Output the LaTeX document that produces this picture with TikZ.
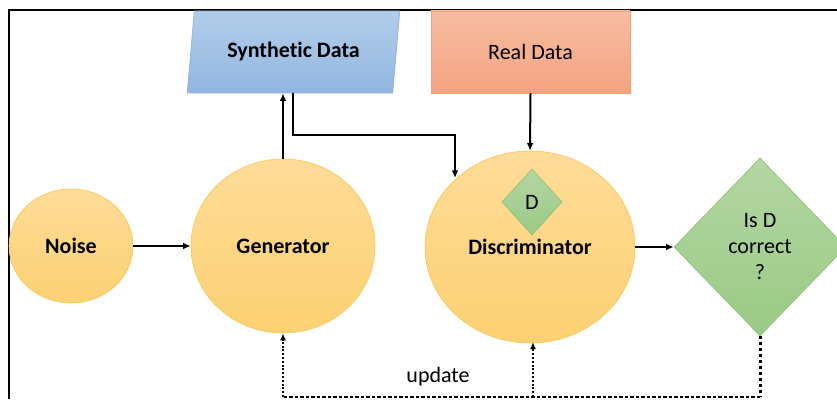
\documentclass[tikz,border=0pt]{standalone}
\usepackage{fontspec}
\setmainfont[Ligatures=NoCommon]{Carlito}
\usetikzlibrary{shapes.geometric,arrows.meta}
\definecolor{yelT}{HTML}{FEDC98}
\definecolor{yelB}{HTML}{FDD173}
\definecolor{yelE}{HTML}{F8C64E}
\definecolor{grnT}{HTML}{B3D6A3}
\definecolor{grnB}{HTML}{9BCA85}
\definecolor{grnE}{HTML}{8DBE76}
\definecolor{bluT}{HTML}{B2CDEA}
\definecolor{bluB}{HTML}{92B6E0}
\definecolor{bluE}{HTML}{8AB0DC}
\definecolor{redT}{HTML}{F6BCA2}
\definecolor{redB}{HTML}{F4A381}
\definecolor{redE}{HTML}{F2A078}
\tikzset{
  blob/.style={ellipse, inner sep=0pt, top color=yelT, bottom color=yelB, draw=yelE, line width=0.6pt, font=\bfseries\fontsize{22}{24}\selectfont},
  gdiam/.style={diamond, inner sep=0pt, aspect=1, top color=grnT, bottom color=grnB, draw=grnE, line width=0.6pt, font=\fontsize{22}{26}\selectfont, align=center},
  conn/.style={line width=2pt, -{Latex[length=7.5pt,width=6.5pt]}},
  upd/.style={line width=1.5pt, dash pattern=on 2pt off 1.8pt, -{Latex[length=7pt,width=6pt]}}
}
\begin{document}
\begin{tikzpicture}[x=1pt,y=1pt]
\useasboundingbox (0,0) rectangle (837,399);
% frame
\draw[line width=2pt] (9,0) -- (9,389) -- (837,389);
% data sources
\node[trapezium, trapezium left angle=76, trapezium right angle=104, trapezium stretches=true,
  minimum width=213pt, minimum height=82pt, inner sep=0pt,
  top color=bluT, bottom color=bluB, draw=bluE, line width=0.6pt,
  font=\bfseries\fontsize{22}{24}\selectfont] (syn) at (293.5,347) {Synthetic Data};
\node[rectangle, minimum width=199pt, minimum height=82pt, inner sep=0pt,
  top color=redT, bottom color=redB, draw=redE, line width=0.6pt,
  font=\fontsize{22}{24}\selectfont] (real) at (530.5,347) {Real Data};
% main nodes
\node[blob, minimum width=124pt, minimum height=114pt] (noise) at (71,153) {Noise};
\node[blob, minimum width=184pt, minimum height=174pt] (gen) at (283,153) {Generator};
\node[blob, minimum width=210pt, minimum height=192pt] (dis) at (530,152) {Discriminator};
\node[gdiam, minimum width=60pt, minimum height=66pt] (dd) at (532,197) {D};
\node[gdiam, minimum width=172pt, minimum height=178pt] (isd) at (760,152) {Is D\\correct\\?};
% connectors
\draw[conn] (noise.east) -- (gen.west);
\draw[conn] (gen.north) -- (gen.north |- syn.south);
\coordinate (dtop) at (455,221);
\draw[conn] (293,306) -- (293,264) -- (455,264) -- (dtop);
\draw[conn] (real.south) -- (dis.north);
\draw[conn] (dis.east) -- (isd.west);
% update loop
\coordinate (bR) at (760,2);
\coordinate (bL) at (283,2);
\coordinate (bM) at (533,2);
\draw[line width=3pt, dash pattern=on 3pt off 3pt] (isd.south) -- (bR);
\draw[line width=1.5pt, dash pattern=on 3.5pt off 2pt] (bR) -- (bL);
\draw[upd] (bL) -- (gen.south);
\draw[upd] (bM) -- (533,57);
\node[font=\fontsize{22}{24}\selectfont] (updl) at (438,22) {update};
\end{tikzpicture}
\end{document}
